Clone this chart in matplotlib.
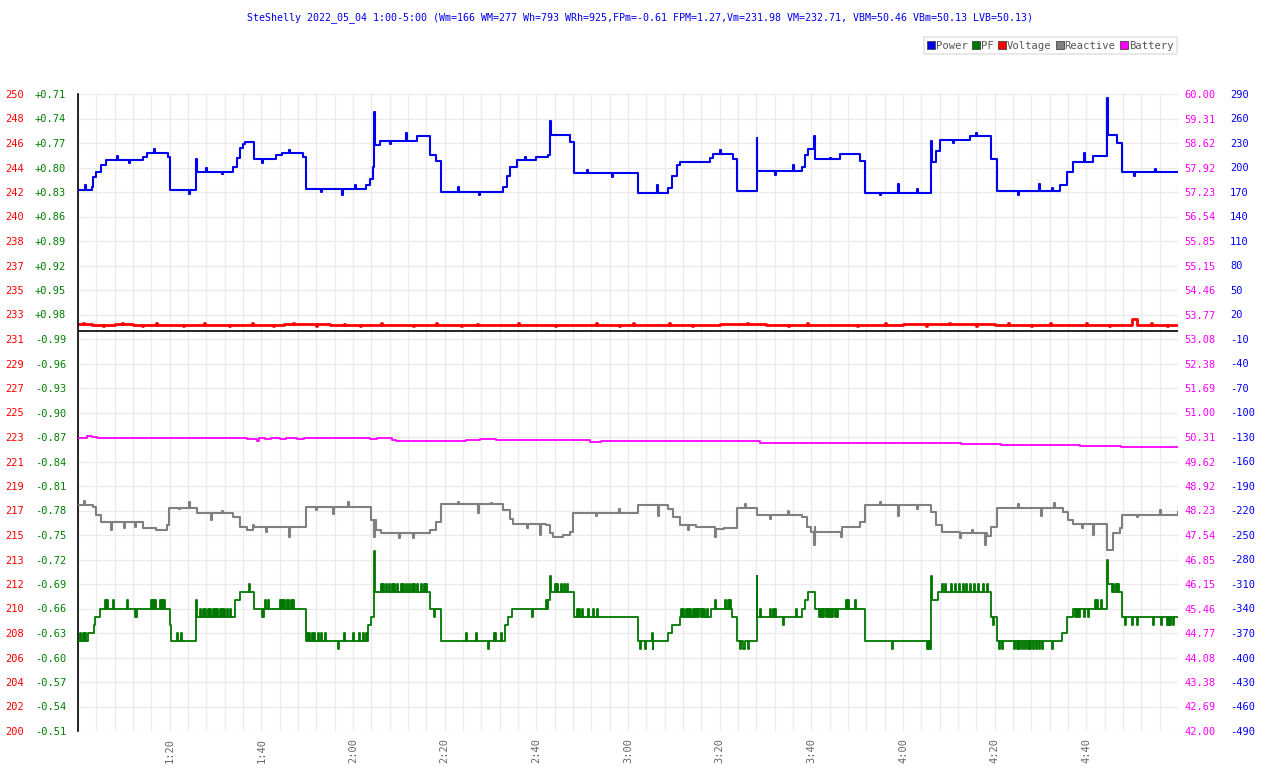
import matplotlib.pyplot as plt
from matplotlib.lines import Line2D
from matplotlib.ticker import MultipleLocator
import numpy as np

plt.rcParams['font.family'] = ['DejaVu Sans Mono']

title = ("SteShelly 2022_05_04 1:00-5:00 (Wm=166 WM=277 Wh=793 WRh=925,FPm=-0.61 "
         "FPM=1.27,Vm=231.98 VM=232.71, VBM=50.46 VBm=50.13 LVB=50.13)")

# time in minutes after 1:00
x_ticks = [20, 40, 60, 80, 100, 120, 140, 160, 180, 200, 220]
x_labels = ["1:20", "1:40", "2:00", "2:20", "2:40", "3:00", "3:20", "3:40", "4:00", "4:20", "4:40"]

# axis tick labels, top to bottom
volt_labels = ["250", "248", "246", "244", "242", "240", "238", "237", "235", "233", "231", "229", "227",
               "225", "223", "221", "219", "217", "215", "213", "212", "210", "208", "206", "204", "202", "200"]
pf_labels = ["+0.71", "+0.74", "+0.77", "+0.80", "+0.83", "+0.86", "+0.89", "+0.92", "+0.95", "+0.98",
             "-0.99", "-0.96", "-0.93", "-0.90", "-0.87", "-0.84", "-0.81", "-0.78", "-0.75", "-0.72",
             "-0.69", "-0.66", "-0.63", "-0.60", "-0.57", "-0.54", "-0.51"]
bat_labels = ["60.00", "59.31", "58.62", "57.92", "57.23", "56.54", "55.85", "55.15", "54.46", "53.77",
              "53.08", "52.38", "51.69", "51.00", "50.31", "49.62", "48.92", "48.23", "47.54", "46.85",
              "46.15", "45.46", "44.77", "44.08", "43.38", "42.69", "42.00"]
pw_labels = ["290", "260", "230", "200", "170", "140", "110", "80", "50", "20", "-10", "-40", "-70", "-100",
             "-130", "-160", "-190", "-220", "-250", "-280", "-310", "-340", "-370", "-400", "-430", "-460", "-490"]

# Power (W)
pw_t = [0, 3.0, 3.3, 4.0, 5.0, 6.0, 14.2, 15.0, 19.7, 20.0, 25.7, 25.9, 33.9, 34.6, 35.4, 36.0, 36.5,
        38.4, 43.3, 44.4, 49.1, 49.7, 62.9, 63.6, 64.4, 64.6, 64.8, 65.9, 73.9, 76.9, 78.2, 79.1,
        92.8, 93.5, 94.2, 95.7, 100.0, 102.6, 102.9, 103.1, 107.3, 108.3,
        122.1, 128.8, 129.5, 130.6, 131.3, 137.9, 138.6, 143.0, 143.7, 148.05, 148.2,
        157.9, 158.6, 159.3, 160.6, 160.7, 160.9, 166.2, 170.6, 171.8, 186.2, 186.4, 187.3, 188.0,
        194.6, 199.1, 200.5, 214.2, 215.7, 217.1, 221.5, 224.6, 224.8, 226.6, 227.8, 240]
pw_v = [172, 176, 188, 195, 203, 209, 213, 218, 213, 173, 210, 195, 200, 212, 224, 229, 231,
        211, 215, 218, 213, 174, 178, 186, 200, 268, 227, 233, 238, 215, 208, 170,
        176, 190, 200, 209, 213, 215, 257, 240, 231, 193,
        169, 175, 190, 203, 207, 212, 216, 210, 171, 236, 196,
        200, 215, 223, 239, 225, 211, 216, 208, 169, 233, 207, 220, 234,
        238, 211, 171, 178, 195, 207, 214, 285, 240, 230, 194, 194]
pw_spk_t = [1.5, 8.5, 11.2, 16.5, 24.3, 28.0, 31.5, 40.2, 46.0, 53.0, 57.5, 60.5, 68.0, 71.5, 83.0,
            87.5, 97.5, 111.0, 116.5, 126.4, 134.5, 140.0, 152.0, 156.0, 164.0, 175.0, 179.0, 183.0,
            191.0, 196.0, 205.0, 209.6, 212.5, 219.5, 230.5, 235.0]
pw_spk_v = [178, 214, 206, 223, 167, 199, 192, 206, 222, 170, 166, 179, 229, 242, 176,
            166, 213, 197, 188, 179, 207, 221, 191, 203, 212, 166, 180, 174,
            230, 242, 166, 180, 175, 218, 189, 198]

# Reactive (VAR)
re_t = [0, 3.3, 4.0, 5.1, 14.2, 17.0, 19.4, 19.9, 25.9, 33.9, 35.3, 36.8, 38.2, 38.5, 49.7,
        64.0, 65.1, 66.0, 76.8, 78.2, 79.1, 92.8, 94.2, 95.0, 102.2, 102.9, 103.6, 105.9, 107.3, 108.0,
        122.2, 128.8, 129.9, 131.3, 134.9, 138.9, 141.0, 143.7, 148.2, 157.9, 159.0, 160.0, 160.8,
        170.6, 171.8, 186.2, 187.3, 188.4, 192.4, 198.3, 199.1, 200.6, 215.0, 216.1, 217.1,
        224.4, 224.6, 225.9, 227.3, 227.7, 240]
re_v = [-213, -216, -226, -234, -242, -244, -238, -217, -223, -228, -240, -244, -238, -240, -216,
        -232, -244, -248, -244, -234, -212, -220, -230, -236, -238, -248, -253, -250, -246, -223,
        -213, -218, -228, -238, -240, -243, -241, -217, -226, -228, -240, -246, -240,
        -234, -213, -222, -238, -246, -248, -251, -240, -217, -222, -232, -237,
        -240, -268, -248, -242, -226, -222]
re_spk_t = [1.2, 7.2, 10.0, 12.5, 22.0, 24.2, 29.0, 31.5, 41.0, 46.1, 52.0, 55.6, 59.0, 64.5, 70.0,
            73.0, 83.0, 87.3, 90.0, 98.0, 100.8, 113.0, 118.0, 126.6, 133.0, 138.9, 145.5, 151.0,
            155.0, 160.6, 166.5, 175.0, 179.0, 183.0, 192.4, 195.0, 197.8, 205.0, 210.2, 213.0,
            219.0, 221.4, 231.0, 236.0]
re_spk_v = [-208, -244, -241, -240, -218, -209, -232, -221, -246, -252, -220, -224, -210, -252, -254,
            -254, -209, -223, -211, -241, -250, -227, -218, -227, -244, -252, -212, -230,
            -221, -262, -252, -209, -227, -218, -254, -244, -262, -212, -227, -211,
            -242, -250, -228, -219]

# PF (negative = leading)
pf_t = [0, 2.2, 3.5, 3.8, 4.8, 20.0, 20.2, 25.7, 25.9, 34.2, 35.3, 38.4, 49.7, 63.3, 63.9, 64.5, 64.7,
        76.9, 79.1, 93.1, 93.9, 94.6, 102.6, 102.9, 103.3, 108.3,
        122.2, 128.8, 129.5, 131.3, 138.2, 142.6, 143.8, 148.05, 148.2, 157.9, 158.6, 159.3, 160.9,
        171.8, 186.2, 186.4, 187.6, 199.1, 200.6, 214.6, 215.7, 217.1, 224.6, 224.8, 225.5, 227.8, 240]
pf_v = [-0.62, -0.63, -0.64, -0.65, -0.66, -0.64, -0.62, -0.67, -0.65, -0.67, -0.68, -0.66, -0.62,
        -0.64, -0.65, -0.73, -0.68, -0.66, -0.62, -0.64, -0.65, -0.66, -0.67, -0.70, -0.68, -0.65,
        -0.62, -0.63, -0.64, -0.65, -0.66, -0.65, -0.62, -0.70, -0.65, -0.66, -0.67, -0.68, -0.66,
        -0.62, -0.70, -0.67, -0.68, -0.65, -0.62, -0.63, -0.65, -0.66, -0.72, -0.69, -0.68, -0.65, -0.65]
pf_spk_t = [0.4, 1.0, 1.6, 5.9, 6.3, 7.7, 10.6, 12.4, 12.7, 16.0, 16.4, 16.8, 17.9, 18.3, 18.7,
            21.6, 22.4, 26.6, 27.2, 27.8, 28.4, 28.9, 29.4, 29.9, 30.4, 30.9, 31.4, 31.9, 32.5, 33.2,
            37.3, 40.1, 40.4, 40.9, 41.4, 44.1, 44.6, 45.0, 45.5, 45.9, 46.4, 46.9,
            50.0, 50.5, 51.0, 51.5, 52.3, 53.0, 53.8, 56.8, 58.0, 60.0, 61.3, 62.2, 62.8,
            66.0, 66.6, 67.2, 67.8, 68.4, 69.0, 69.6, 70.4, 71.0, 71.6, 72.2, 72.8, 73.4, 74.0, 74.8,
            75.4, 76.0, 77.7, 84.6, 86.8, 89.4, 90.7, 91.0, 92.3, 99.0, 102.0,
            104.0, 104.6, 105.3, 106.0, 106.7, 108.8, 109.3, 110.0, 111.2, 112.4, 113.3,
            122.6, 123.8, 125.2, 125.4, 131.6, 132.1, 132.6, 133.1, 133.6, 134.1, 134.6, 135.1, 135.6,
            136.1, 136.6, 137.2, 138.9, 141.1, 141.9, 142.2, 144.4, 145.2, 146.2, 148.8, 150.9, 151.7,
            152.0, 153.9, 156.6, 161.6, 162.1, 162.6, 163.1, 163.6, 164.1, 164.6, 165.1, 165.6,
            167.6, 168.1, 169.5, 177.5, 185.3, 185.6, 185.9,
            188.6, 189.2, 190.5, 191.3, 192.3, 193.0, 193.7, 194.6, 195.4, 196.4, 197.4, 198.4, 199.6,
            200.9, 201.5, 204.2, 204.8, 205.4, 206.0, 206.6, 207.2, 207.8, 208.4, 209.0, 209.6, 210.3,
            212.4, 217.5, 218.0, 218.5, 219.5, 220.3, 221.8, 222.4, 223.2, 225.9, 226.4, 227.0,
            228.4, 229.9, 231.0, 234.5, 236.2, 237.5, 237.9, 238.3, 238.8]
pf_spk_v = [-0.63, -0.63, -0.63, -0.67, -0.67, -0.67, -0.67, -0.65, -0.65, -0.67, -0.67, -0.67, -0.67,
            -0.67, -0.67,
            -0.63, -0.63, -0.66, -0.66, -0.66, -0.66, -0.66, -0.66, -0.66, -0.66, -0.66, -0.66, -0.66,
            -0.66, -0.66,
            -0.69, -0.65, -0.65, -0.67, -0.67, -0.67, -0.67, -0.67, -0.67, -0.67, -0.67, -0.67,
            -0.63, -0.63, -0.63, -0.63, -0.63, -0.63, -0.63, -0.61, -0.63, -0.63, -0.63, -0.63, -0.63,
            -0.69, -0.69, -0.69, -0.69, -0.69, -0.69, -0.69, -0.69, -0.69, -0.69, -0.69, -0.69, -0.69,
            -0.69, -0.69, -0.69, -0.69, -0.65, -0.63, -0.63, -0.61, -0.63, -0.63, -0.63, -0.65, -0.67,
            -0.69, -0.69, -0.69, -0.69, -0.69, -0.66, -0.66, -0.66, -0.66, -0.66, -0.66,
            -0.61, -0.61, -0.63, -0.61, -0.66, -0.66, -0.66, -0.66, -0.66, -0.66, -0.66, -0.66, -0.66,
            -0.66, -0.66, -0.66, -0.67, -0.67, -0.67, -0.67, -0.61, -0.61, -0.61, -0.66, -0.66, -0.66,
            -0.66, -0.64, -0.66, -0.65, -0.65, -0.65, -0.65, -0.65, -0.65, -0.65, -0.65, -0.65,
            -0.67, -0.67, -0.67, -0.61, -0.61, -0.61, -0.61,
            -0.69, -0.69, -0.69, -0.69, -0.69, -0.69, -0.69, -0.69, -0.69, -0.69, -0.69, -0.69, -0.64,
            -0.61, -0.61, -0.61, -0.61, -0.61, -0.61, -0.61, -0.61, -0.61, -0.61, -0.61, -0.61, -0.61,
            -0.61, -0.65, -0.65, -0.65, -0.65, -0.65, -0.67, -0.67, -0.67, -0.69, -0.69, -0.69,
            -0.64, -0.64, -0.64, -0.64, -0.64, -0.64, -0.64, -0.64, -0.64]

# Voltage (V)
v_t = [0, 3, 8, 12, 20, 30, 45, 55, 70, 90, 100, 110, 125, 140, 150, 165, 180, 200, 215, 230, 231, 240]
v_v = [231.95, 231.88, 231.92, 231.86, 231.9, 231.87, 231.92, 231.86, 231.9, 231.87, 231.85, 231.9,
       231.88, 231.92, 231.87, 231.9, 231.93, 231.88, 231.9, 232.3, 231.9, 231.88]
v_spk_t = [1.0, 5.5, 9.5, 14.0, 17.0, 23.0, 27.5, 33.0, 38.0, 42.5, 47.0, 52.0, 58.0, 61.5, 66.0, 73.0,
           78.0, 83.5, 87.0, 96.0, 104.0, 113.0, 118.0, 121.0, 129.0, 134.0, 146.0, 155.0, 159.0,
           170.0, 176.0, 185.0, 190.0, 196.0, 203.0, 208.0, 212.0, 220.0, 225.0, 234.0, 237.5]
v_spk_v = [232.05, 231.78, 232.02, 231.8, 232.0, 231.8, 232.03, 231.82, 232.0, 231.8, 232.02, 231.8,
           231.98, 231.78, 232.03, 231.82, 232.0, 231.8, 231.98, 232.0, 231.8, 232.02, 231.8, 231.99,
           232.02, 231.8, 232.0, 231.78, 232.02, 231.8, 232.03, 231.8, 232.0, 231.78, 232.02, 231.8,
           232.0, 232.04, 231.8, 232.03, 231.82]

# Battery (V)
bat_t = [0, 2.0, 3.1, 4.2, 36.9, 39.1, 39.5, 40.7, 42.0, 44.0, 45.3, 47.7, 49.2, 63.8, 65.3, 68.6,
         69.3, 84.6, 87.8, 91.1, 111.8, 114.0, 125.0, 148.9, 192.6, 201.3, 218.7, 227.5, 240]
bat_v = [50.28, 50.33, 50.31, 50.28, 50.24, 50.19, 50.28, 50.25, 50.28, 50.24, 50.28, 50.25, 50.28,
         50.24, 50.28, 50.23, 50.19, 50.22, 50.26, 50.22, 50.17, 50.19, 50.20, 50.14, 50.11, 50.08,
         50.05, 50.02, 50.02]

c_pw, c_pf, c_v, c_re, c_bat = '#0000ee', '#007700', '#ff0000', '#808080', '#ff00ff'


def with_spikes(t, v, st, sv, w=0.22):
    # insert short excursions into a step series, returning to the level in force
    t = np.asarray(t, float)
    v = np.asarray(v, float)
    tt, vv = list(t), list(v)
    for s, val in zip(st, sv):
        base = v[np.searchsorted(t, s, side='right') - 1]
        tt += [s, s + w]
        vv += [val, base]
    order = np.argsort(tt, kind='stable')
    return np.array(tt)[order], np.array(vv)[order]


fig = plt.figure(figsize=(12.8, 7.68), dpi=100)
ax = fig.add_axes([78 / 1280, 1 - 731 / 768, 1100 / 1280, 637 / 768])
ax_pf = ax.twinx()
ax_bat = ax.twinx()
ax_pw = ax.twinx()

n = len(volt_labels)
ax.set_xlim(0, 240)
ax.set_ylim(200, 250)
ax.set_yticks(np.linspace(250, 200, n))
ax.set_yticklabels(volt_labels)
ax.set_xticks(x_ticks)
ax.set_xticklabels(x_labels, rotation=90, color='#666666')
ax.xaxis.set_minor_locator(MultipleLocator(4))
ax.grid(True, which='both', color='#ebebeb', lw=1)
ax.tick_params(axis='y', length=0, pad=39, labelcolor='red', labelsize=7.5)
ax.tick_params(axis='x', which='both', length=0, pad=5, labelsize=7.5)

# PF: values above 1 mean negative PF, axis runs 0.71 .. 1.49 downward
ax_pf.set_ylim(1.49, 0.71)
ax_pf.set_yticks(np.linspace(0.71, 1.49, n))
ax_pf.set_yticklabels(pf_labels)
ax_pf.yaxis.tick_left()
ax_pf.tick_params(axis='y', length=0, pad=8.5, labelcolor='green', labelsize=7.5)

ax_bat.set_ylim(42, 60)
ax_bat.set_yticks(np.linspace(60, 42, n))
ax_bat.set_yticklabels(bat_labels)
ax_bat.tick_params(axis='y', length=0, pad=4.5, labelcolor='magenta', labelsize=7.5)

ax_pw.set_ylim(-490, 290)
ax_pw.set_yticks(np.linspace(290, -490, n))
ax_pw.set_yticklabels(pw_labels)
ax_pw.tick_params(axis='y', length=0, pad=37.5, labelcolor='blue', labelsize=7.5)

for a in (ax, ax_pf, ax_bat, ax_pw):
    for s in a.spines.values():
        s.set_visible(False)
ax.spines['left'].set_visible(True)
ax.spines['left'].set_color('black')
ax.spines['left'].set_linewidth(1.2)

pt, pv = with_spikes(pf_t, pf_v, pf_spk_t, pf_spk_v)
pv = np.where(pv > 0, pv, 2 + pv)
wt, wv = with_spikes(pw_t, pw_v, pw_spk_t, pw_spk_v)
rt, rv = with_spikes(re_t, re_v, re_spk_t, re_spk_v)
vt, vv = with_spikes(v_t, v_v, v_spk_t, v_spk_v)

ax_pw.axhline(0, color='black', lw=1.2)
ax.plot(vt, vv, color=c_v, lw=2.0, drawstyle='steps-post')
ax_bat.plot(bat_t, bat_v, color=c_bat, lw=1.3, drawstyle='steps-post')
ax_pw.plot(rt, rv, color=c_re, lw=1.5, drawstyle='steps-post')
ax_pf.plot(pt, pv, color=c_pf, lw=1.3, drawstyle='steps-post')
ax_pw.plot(wt, wv, color=c_pw, lw=1.5, drawstyle='steps-post')

fig.text(0.5, 1 - 18 / 768, title, ha='center', va='center', color='#0000ee', fontsize=7.2)

handles = [Line2D([], [], marker='s', ls='none', markersize=6, markerfacecolor=c, markeredgecolor='#444444',
                  markeredgewidth=0.6) for c in (c_pw, c_pf, c_v, c_re, c_bat)]
leg = fig.legend(handles, ["Power", "PF", "Voltage", "Reactive", "Battery"], ncol=5,
                 loc='upper right', bbox_to_anchor=(1177 / 1280, 1 - 37 / 768), fontsize=7.6,
                 handlelength=0.6, handletextpad=0.15, columnspacing=0.5, borderpad=0.35,
                 borderaxespad=0, frameon=True, fancybox=False, labelcolor='#555555')
leg.get_frame().set_edgecolor('#dddddd')
leg.get_frame().set_linewidth(1.2)

fig.savefig('out.png', dpi=100)
